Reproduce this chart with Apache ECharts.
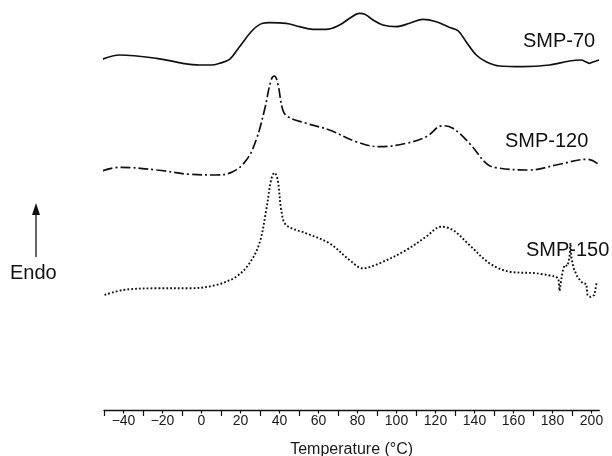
<!DOCTYPE html>
<html>
<head>
<meta charset="utf-8">
<script src="https://cdn.jsdelivr.net/npm/echarts@6/dist/echarts.min.js"></script>
<style>
html,body{margin:0;padding:0;background:#fff;}
#chart{width:612px;height:456px;}
</style>
</head>
<body>
<div id="chart"></div>
<script>
// Temperature (°C) and relative heat flow (arbitrary units, stacked offsets)
const smp70T = [-50.9,-42,-23,-9.6,-1,5,9.2,14.4,19.5,26.3,31.4,34.9,43.4,50.3,57.1,64,70.8,76,81,84,88,93,99.8,106.7,113.5,120.4,127,131.5,135.7,140.9,146,152.8,164.8,178.5,188.7,194.7,197.3,199,200.7,203.8];
const smp70V = [35.07,35.5,35.17,34.67,34.5,34.5,34.67,35.07,36.33,38.0,38.67,38.73,38.67,38.33,38.07,38.07,38.5,39.17,39.67,39.55,39.0,38.5,38.33,38.67,39.07,38.83,38.27,37.93,36.83,35.5,34.83,34.4,34.33,34.5,34.9,35.0,34.8,34.67,34.8,35.0];

const smp120T = [-50.6,-42,-23,-6,7.5,16,23,28,32.3,35.7,37.4,39.1,41.7,44.3,53.7,65.6,79.3,91.3,105,115.2,123.8,128.9,137.4,146,151.1,168.2,181.9,198.1,204];
const smp120V = [23.93,24.27,24.0,23.57,23.5,23.83,25.0,27.0,30.0,33.0,33.4,32.67,30.0,29.33,28.67,28.0,26.83,26.33,26.67,27.33,28.43,28.17,26.67,24.67,24.23,24.0,24.5,25.07,24.5];

const smp150T = [-49.7,-40.3,-23,-6,7.5,17.8,24.6,29.7,33.2,35.7,37.4,39.1,40.9,43.4,53.7,65.6,75.9,82.7,91.3,105,115.2,122.9,128.9,137.4,147.7,158,171.6,181.9];
const smp150V = [11.5,12.0,12.17,12.17,12.5,13.33,14.67,16.67,20.0,23.0,23.73,23.0,20.0,18.5,17.67,16.67,15.0,14.17,14.67,16.0,17.33,18.33,18.0,16.5,14.67,13.83,13.67,13.33];
// noisy tail of SMP-150
const smp150TailT = [181.9,183.1,183.6,184.1,185.1,186.2,187.7,188.7,189.2,189.7,190.8,192.8,195.4,197.4,197.9,199.5,201.5,202.6];
const smp150TailV = [13.33,13.1,11.9,12.5,13.8,14.5,14.4,15.2,16.7,15.2,14.2,13.3,12.7,12.6,11.5,11.3,11.5,12.7];

const seriesNames = ['SMP-70','SMP-120','SMP-150'];
const majorTicks = [-50,-30,-10,10,30,50,70,90,110,130,150,170,190];
const labelTicks = [-40,-20,0,20,40,60,80,100,120,140,160,180,200];
const xTitle = 'Temperature (\u00B0C)';
const yLabel = 'Endo';

const zip = (a,b) => a.map((v,i)=>[v,b[i]]);
const font = '"Liberation Sans", Arial, sans-serif';
const chart = echarts.init(document.getElementById('chart'), null, {renderer:'canvas'});
const dotted = {color:'#111', width:1.9, type:[1.8,2.1]};

chart.setOption({
  animation:false,
  backgroundColor:'#fff',
  grid:{left:104, width:495.3, top:0, height:410, containLabel:false, outerBoundsMode:'none'},
  xAxis:[{
    type:'value', min:-50, max:204, interval:10,
    axisLine:{show:true, lineStyle:{color:'#111', width:1.3}},
    axisTick:{show:true, length:6, customValues:majorTicks, lineStyle:{color:'#111', width:1.2}},
    axisLabel:{show:false},
    splitLine:{show:false}
  },{
    type:'value', min:-50, max:204, interval:10, position:'bottom',
    axisLine:{show:false},
    axisTick:{show:true, length:3.5, customValues:labelTicks, lineStyle:{color:'#111', width:1.2}},
    axisLabel:{show:true, customValues:labelTicks, margin:4, fontSize:14, color:'#1a1a1a', fontFamily:font,
      formatter:v=>String(v).replace('-','\u2212')},
    splitLine:{show:false},
    name:xTitle, nameLocation:'middle', nameGap:32,
    nameTextStyle:{fontSize:16, color:'#1a1a1a', fontFamily:font}
  }],
  yAxis:{type:'value', min:0, max:41, show:false},
  series:[
    {name:seriesNames[0], type:'line', data:zip(smp70T,smp70V), showSymbol:false, smooth:0.35,
     lineStyle:{color:'#111', width:1.7, type:'solid'}},
    {name:seriesNames[1], type:'line', data:zip(smp120T,smp120V), showSymbol:false, smooth:0.4,
     lineStyle:{color:'#111', width:1.7, type:[10,3,2,3]}},
    {name:seriesNames[2], type:'line', data:zip(smp150T,smp150V), showSymbol:false, smooth:0.35,
     lineStyle:dotted},
    {name:seriesNames[2]+' tail', type:'line', data:zip(smp150TailT,smp150TailV), showSymbol:false, smooth:false,
     lineStyle:dotted}
  ],
  graphic:[
    {type:'text', left:523, top:31, style:{text:seriesNames[0], font:'20px '+font, fill:'#111'}},
    {type:'text', left:505, top:131, style:{text:seriesNames[1], font:'20px '+font, fill:'#111'}},
    {type:'text', left:526, top:240, style:{text:seriesNames[2], font:'20px '+font, fill:'#111'}},
    {type:'text', left:10, top:263, style:{text:yLabel, font:'20px '+font, fill:'#111'}},
    {type:'line', shape:{x1:36, y1:257, x2:36, y2:212}, style:{stroke:'#333', lineWidth:1.5}},
    {type:'polygon', shape:{points:[[36,203],[32,215],[40,215]]}, style:{fill:'#111'}}
  ]
});
</script>
</body>
</html>
